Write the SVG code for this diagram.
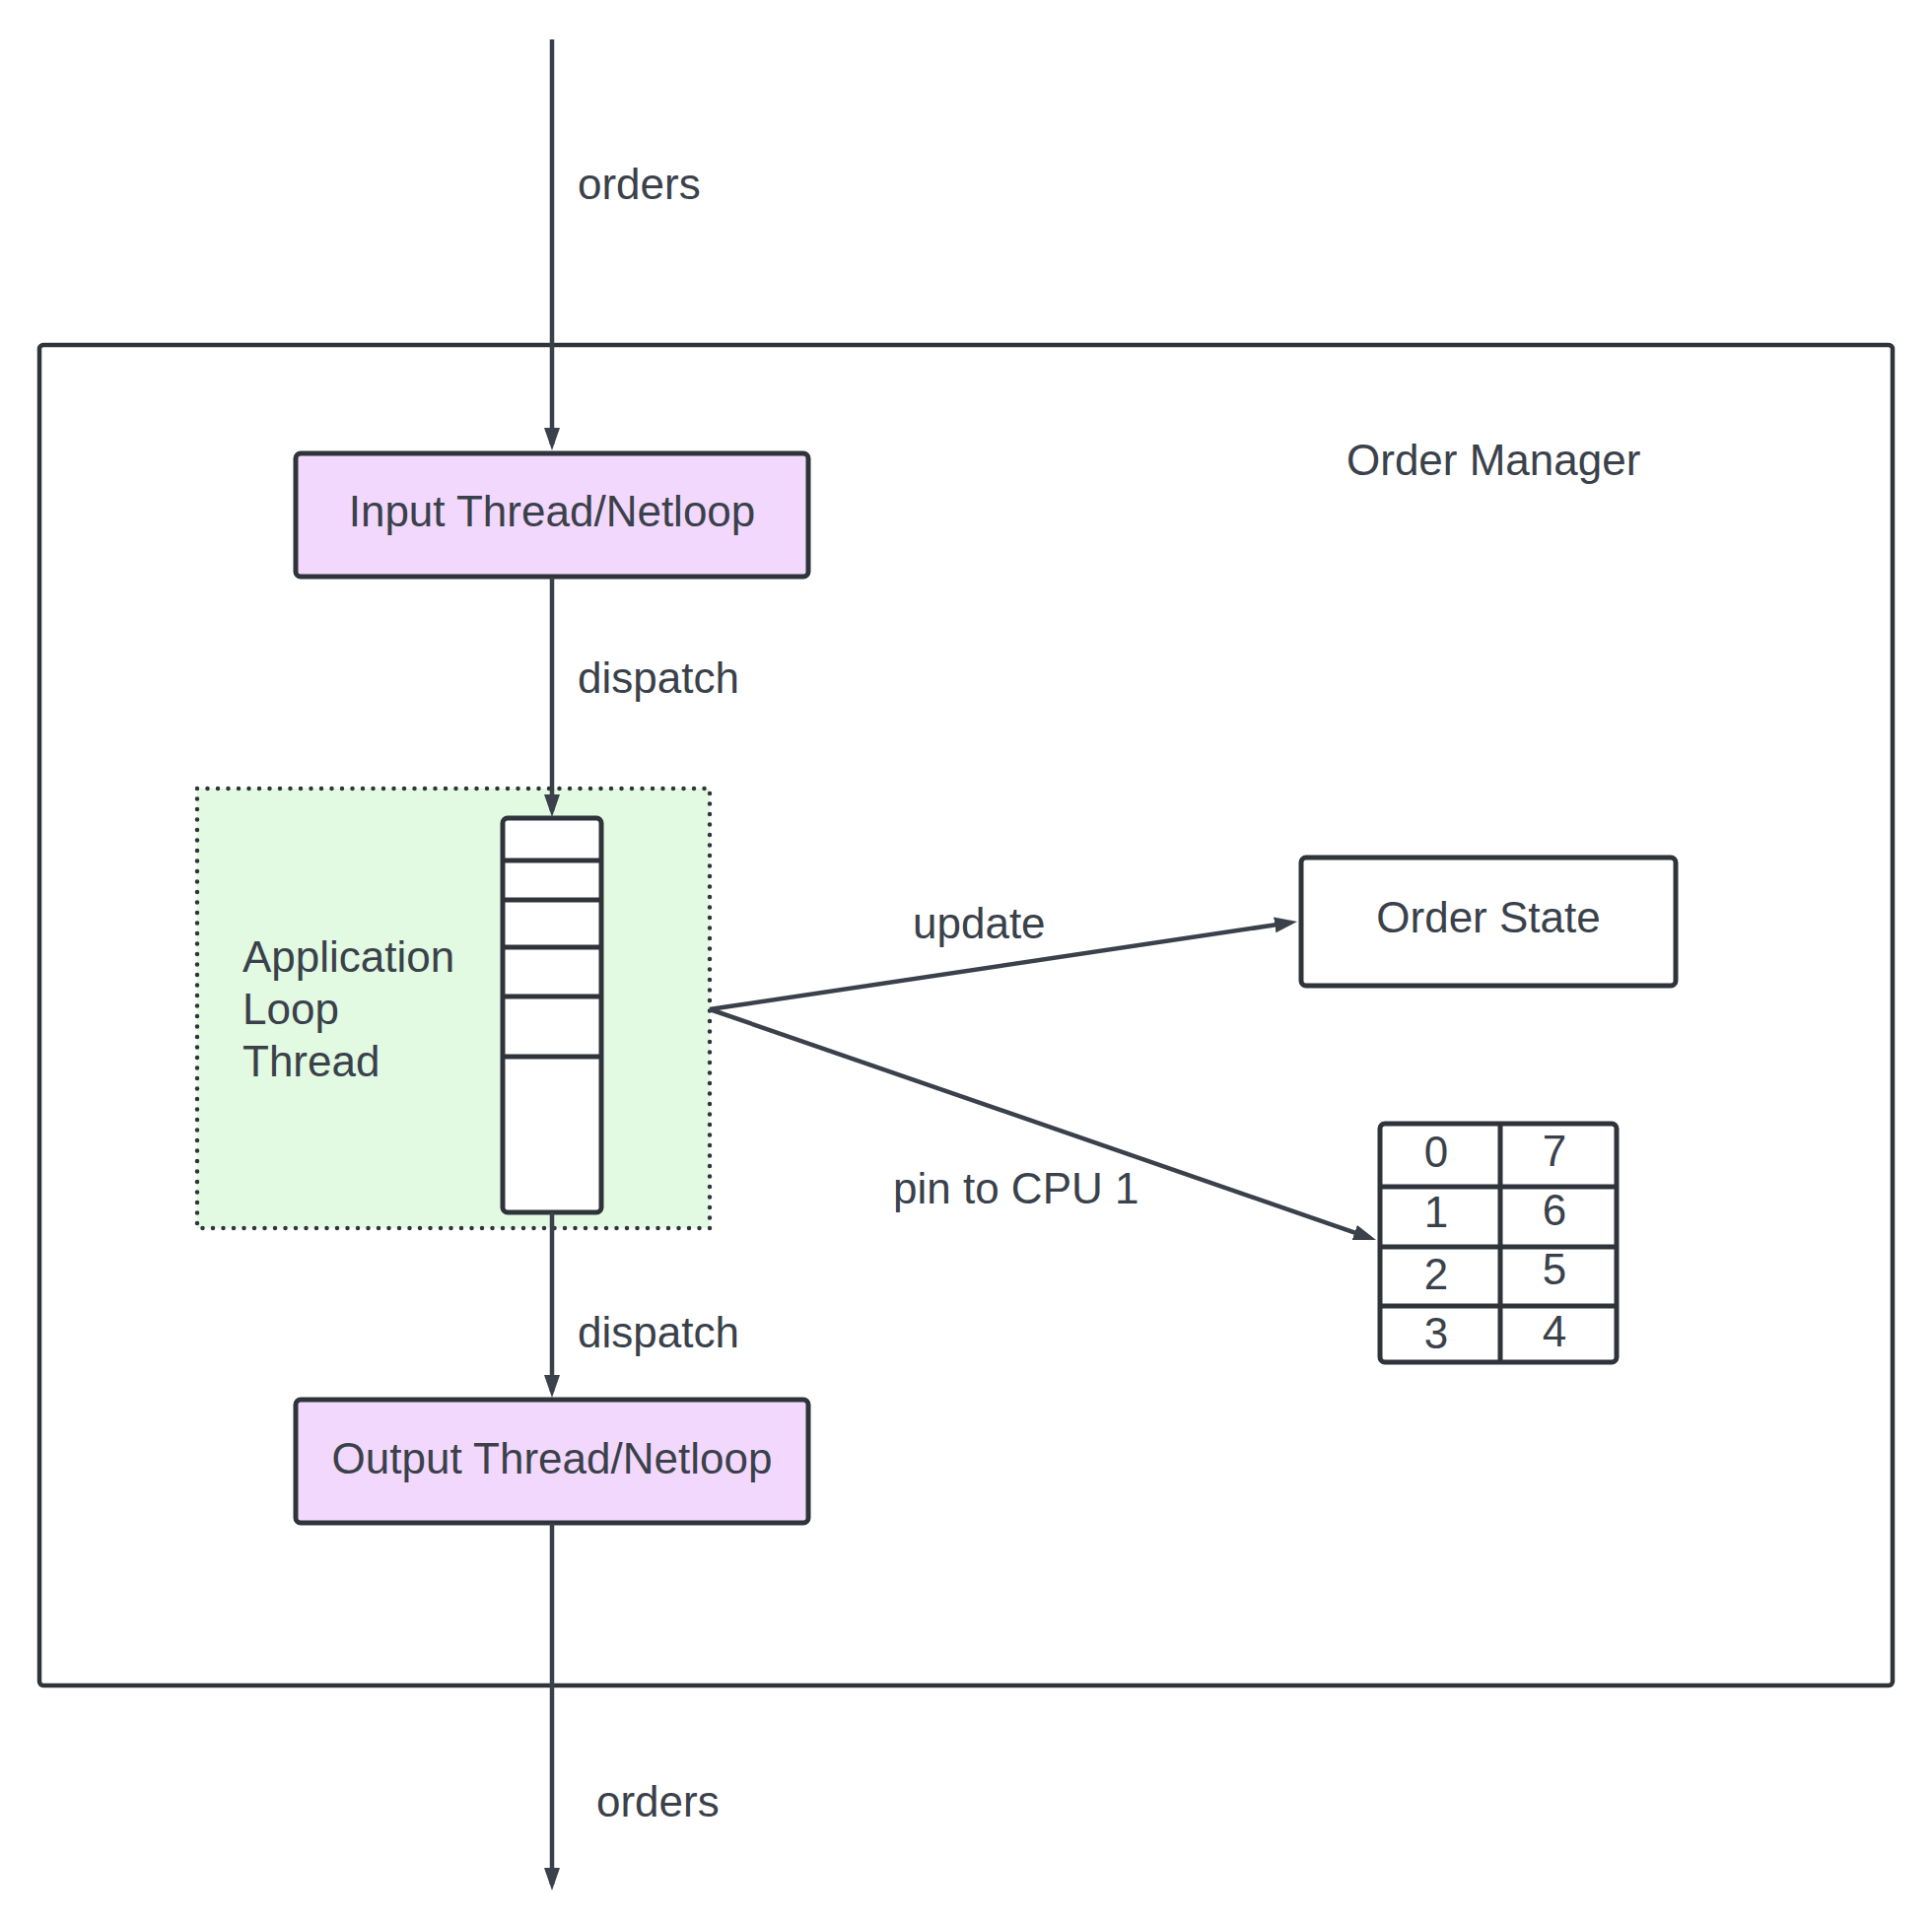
<svg xmlns="http://www.w3.org/2000/svg" width="1960" height="1952" viewBox="0 0 1960 1952">
<style>
  text { font-family: "Liberation Sans", Arial, sans-serif; font-size: 44px; fill: #3a414a; }
  .mid { text-anchor: middle; }
  .box { stroke: #2f343b; stroke-width: 5; }
  .thread { fill: #f2d8fc; }
  .edge { stroke: #3a414a; stroke-width: 4.5; fill: none; }
  .grid { stroke: #2f343b; stroke-width: 5; fill: none; }
</style>
<defs>
  <marker id="arrow" markerUnits="userSpaceOnUse" markerWidth="26" markerHeight="18" refX="17" refY="8" orient="auto">
    <path d="M0,0 L23,8 L0,16 z" fill="#3a414a"/>
  </marker>
</defs>
<rect width="1960" height="1952" fill="#ffffff"/>

<g id="order-manager">
  <rect x="40" y="350" width="1880" height="1360" rx="4" fill="none" stroke="#2f343b" stroke-width="4.5"/>
  <text x="1366" y="482">Order Manager</text>
</g>

<g id="input-thread">
  <rect class="box thread" x="300" y="460" width="520" height="125" rx="5"/>
  <text class="mid" x="560" y="534">Input Thread/Netloop</text>
</g>

<g id="application-loop">
  <rect x="200" y="800" width="520" height="446" fill="#e2f9e2" stroke="#2f343b" stroke-width="4.5" stroke-dasharray="0 10.5" stroke-linecap="round"/>
  <text x="246" y="986">Application</text>
  <text x="246" y="1039">Loop</text>
  <text x="246" y="1092">Thread</text>
</g>

<g id="queue">
  <rect class="box" x="510" y="830" width="100" height="400" rx="5" fill="#ffffff"/>
  <line class="grid" x1="510" y1="873" x2="610" y2="873"/>
  <line class="grid" x1="510" y1="913" x2="610" y2="913"/>
  <line class="grid" x1="510" y1="961" x2="610" y2="961"/>
  <line class="grid" x1="510" y1="1011" x2="610" y2="1011"/>
  <line class="grid" x1="510" y1="1072" x2="610" y2="1072"/>
</g>

<g id="order-state">
  <rect class="box" x="1320" y="870" width="380" height="130" rx="5" fill="#ffffff"/>
  <text class="mid" x="1510" y="946">Order State</text>
</g>

<g id="cpu-grid">
  <rect class="box" x="1400" y="1140" width="240" height="242" rx="5" fill="#ffffff"/>
  <line class="grid" x1="1400" y1="1204" x2="1640" y2="1204"/>
  <line class="grid" x1="1400" y1="1265" x2="1640" y2="1265"/>
  <line class="grid" x1="1400" y1="1325" x2="1640" y2="1325"/>
  <line class="grid" x1="1522" y1="1140" x2="1522" y2="1382"/>
  <text class="mid" x="1457" y="1184">0</text>
  <text class="mid" x="1457" y="1245">1</text>
  <text class="mid" x="1457" y="1308">2</text>
  <text class="mid" x="1457" y="1368">3</text>
  <text class="mid" x="1577" y="1183">7</text>
  <text class="mid" x="1577" y="1243">6</text>
  <text class="mid" x="1577" y="1303">5</text>
  <text class="mid" x="1577" y="1366">4</text>
</g>

<g id="output-thread">
  <rect class="box thread" x="300" y="1420" width="520" height="125" rx="5"/>
  <text class="mid" x="560" y="1495">Output Thread/Netloop</text>
</g>

<g id="connectors">
  <line class="edge" x1="560" y1="40" x2="560" y2="451" marker-end="url(#arrow)"/>
  <text x="586" y="202">orders</text>
  <line class="edge" x1="560" y1="586" x2="560" y2="823" marker-end="url(#arrow)"/>
  <text x="586" y="703">dispatch</text>
  <line class="edge" x1="560" y1="1230" x2="560" y2="1412" marker-end="url(#arrow)"/>
  <text x="586" y="1367">dispatch</text>
  <line class="edge" x1="560" y1="1545" x2="560" y2="1912" marker-end="url(#arrow)"/>
  <text x="605" y="1843">orders</text>
  <line class="edge" x1="720" y1="1024" x2="1310.07" y2="935.89" marker-end="url(#arrow)"/>
  <text x="926" y="952">update</text>
  <line class="edge" x1="720" y1="1024" x2="1390.33" y2="1256.04" marker-end="url(#arrow)"/>
  <text x="906" y="1221">pin to CPU 1</text>
</g>
</svg>
